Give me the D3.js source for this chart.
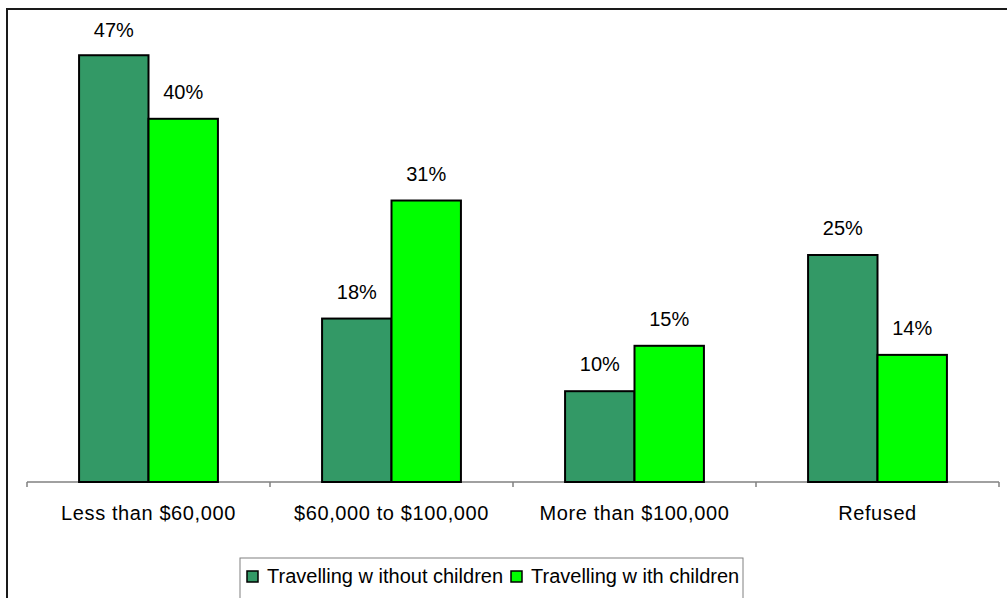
<!DOCTYPE html>
<html>
<head>
<meta charset="utf-8">
<script src="https://cdn.jsdelivr.net/npm/d3@7"></script>
<style>
  html, body { margin: 0; padding: 0; background: #ffffff; }
  svg { display: block; }
  text { font-family: Arial, "Liberation Sans", sans-serif; fill: #000; }
</style>
</head>
<body>
<svg id="chart" width="1007" height="598"></svg>
<script>
// Household income of travellers, by party type (percent)
const categories = ["Less than $60,000", "$60,000 to $100,000", "More than $100,000", "Refused"];
const seriesNames = ["Travelling w ithout children", "Travelling w ith children"];
const withoutChildren = [47, 18, 10, 25];
const withChildren = [40, 31, 15, 14];
const seriesColors = ["#339966", "#00ff00"];

const svg = d3.select("#chart");

// Chart area frame (continues past the right and bottom edges)
svg.append("rect")
  .attr("x", 7).attr("y", 9)
  .attr("width", 1100).attr("height", 700)
  .attr("fill", "#ffffff")
  .attr("stroke", "#1a1a1a")
  .attr("stroke-width", 2);

const plot = { left: 27, right: 999, top: 28, bottom: 482 };

const x0 = d3.scaleBand()
  .domain(categories)
  .range([plot.left, plot.right])
  .padding(0);

const x1 = d3.scaleBand()
  .domain(seriesNames)
  .range([0, x0.bandwidth()])
  .paddingInner(0)
  .paddingOuter(0.75);

const y = d3.scaleLinear()
  .domain([0, 50])
  .range([plot.bottom, plot.top]);

const rows = categories.map((c, i) => ({
  category: c,
  values: [
    { series: seriesNames[0], value: withoutChildren[i], color: seriesColors[0] },
    { series: seriesNames[1], value: withChildren[i], color: seriesColors[1] }
  ]
}));

// Category axis: line with downward ticks at category boundaries
const axisG = svg.append("g");
axisG.append("line")
  .attr("x1", plot.left).attr("x2", plot.right)
  .attr("y1", plot.bottom).attr("y2", plot.bottom)
  .attr("stroke", "#808080").attr("stroke-width", 1.5);
const boundaries = categories.map(c => x0(c)).concat([x0(categories[categories.length - 1]) + x0.bandwidth()]);
axisG.selectAll("line.tick")
  .data(boundaries)
  .join("line")
  .attr("class", "tick")
  .attr("x1", d => d).attr("x2", d => d)
  .attr("y1", plot.bottom).attr("y2", plot.bottom + 5)
  .attr("stroke", "#808080").attr("stroke-width", 1.5);

axisG.selectAll("text.cat")
  .data(categories)
  .join("text")
  .attr("class", "cat")
  .attr("x", d => x0(d) + x0.bandwidth() / 2)
  .attr("y", 520)
  .attr("text-anchor", "middle")
  .attr("font-size", 20)
  .attr("letter-spacing", 0.6)
  .text(d => d);

// Bars
const groups = svg.append("g").selectAll("g")
  .data(rows)
  .join("g")
  .attr("transform", d => `translate(${x0(d.category)},0)`);

groups.selectAll("rect")
  .data(d => d.values)
  .join("rect")
  .attr("x", d => x1(d.series))
  .attr("y", d => y(d.value))
  .attr("width", x1.bandwidth())
  .attr("height", d => y(0) - y(d.value))
  .attr("fill", d => d.color)
  .attr("stroke", "#000")
  .attr("stroke-width", 2);

groups.selectAll("text")
  .data(d => d.values)
  .join("text")
  .attr("x", d => x1(d.series) + x1.bandwidth() / 2)
  .attr("y", d => Math.max(37, y(d.value) - 20))
  .attr("text-anchor", "middle")
  .attr("font-size", 20)
  .text(d => d.value + "%");

// Legend
const legend = svg.append("g");
legend.append("rect")
  .attr("x", 240).attr("y", 558)
  .attr("width", 503).attr("height", 60)
  .attr("fill", "#ffffff")
  .attr("stroke", "#808080")
  .attr("stroke-width", 1);

const legendItems = [
  { name: seriesNames[0], color: seriesColors[0], x: 247 },
  { name: seriesNames[1], color: seriesColors[1], x: 511 }
];
const li = legend.selectAll("g.item")
  .data(legendItems)
  .join("g")
  .attr("class", "item")
  .attr("transform", d => `translate(${d.x},571)`);
li.append("rect")
  .attr("width", 11).attr("height", 11)
  .attr("fill", d => d.color)
  .attr("stroke", "#000")
  .attr("stroke-width", 1.5);
li.append("text")
  .attr("x", 20).attr("y", 12)
  .attr("font-size", 20)
  .text(d => d.name);
</script>
</body>
</html>
